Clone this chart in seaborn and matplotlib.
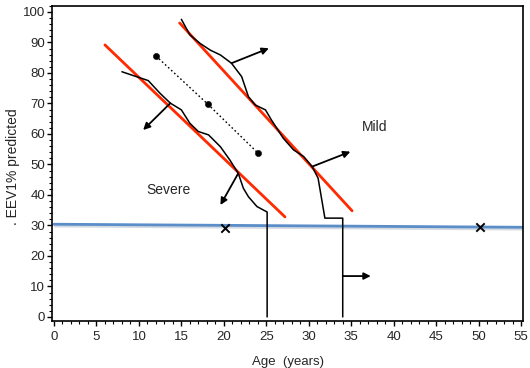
import numpy as np
import pandas as pd
import matplotlib
matplotlib.use('Agg')
import matplotlib.pyplot as plt
import seaborn as sns
from matplotlib.ticker import MultipleLocator

sns.set_style('ticks')
plt.rcParams['font.family'] = ['Liberation Sans', 'DejaVu Sans']

# severe course (black wiggly curve, ends with vertical drop)
sev_age = [8.0, 11.1, 12.5, 13.7, 15.0, 16.0, 17.0, 18.2, 19.6, 20.7, 21.7, 22.3, 22.9, 23.9, 25.1, 25.1]
sev_fev = [80.4, 77.5, 73.3, 70.1, 67.9, 63.5, 60.8, 59.7, 55.8, 51.5, 47.1, 42.2, 39.4, 36.2, 34.4, 0.0]

# mild course
mild_age = [15.0, 16.0, 17.2, 18.4, 19.6, 20.9, 22.1, 22.9, 23.7, 24.9, 25.6, 27.0, 28.2, 29.4, 30.4, 31.1, 31.9, 34.0, 34.0]
mild_fev = [97.6, 92.5, 89.7, 87.5, 85.9, 83.2, 78.8, 72.2, 69.5, 67.9, 64.6, 58.6, 54.8, 52.6, 49.3, 45.5, 32.4, 32.4, 0.0]

# red regression lines
sev_fit_age = [6.0, 27.2]
sev_fit_fev = [89.2, 32.8]
mild_fit_age = [14.8, 35.1]
mild_fit_fev = [96.4, 34.8]

# dotted line with dots
dot_age = [12.0, 18.1, 24.0]
dot_fev = [85.6, 69.8, 53.8]

# threshold (blue)
thr_age = [0.0, 55.2]
thr_fev = [30.4, 29.4]

# X marks
x_age = [20.1, 50.2]
x_fev = [29.3, 29.4]

# arrows
arr_from_age = [13.7, 21.7, 20.9, 30.4, 34.0]
arr_from_fev = [70.1, 47.1, 83.2, 49.3, 13.4]
arr_to_age = [10.5, 19.6, 25.3, 34.9, 37.3]
arr_to_fev = [61.3, 36.7, 88.1, 54.2, 13.4]

fig = plt.figure(figsize=(5.30, 3.68), dpi=100)
ax = fig.add_axes([0.098, 0.128, 0.889, 0.856])

# blue threshold line with faint shadow
ax.plot(thr_age, [v - 0.6 for v in thr_fev], color='#d3dae2', lw=2.0, solid_capstyle='butt')
sns.lineplot(x=thr_age, y=thr_fev, color='#5b8dc9', lw=2.0, ax=ax, sort=False, estimator=None)

sns.lineplot(x=sev_fit_age, y=sev_fit_fev, color='#ff2a00', lw=2.0, ax=ax, sort=False, estimator=None)
sns.lineplot(x=mild_fit_age, y=mild_fit_fev, color='#ff2a00', lw=2.0, ax=ax, sort=False, estimator=None)

sns.lineplot(x=sev_age, y=sev_fev, color='black', lw=1.1, ax=ax, sort=False, estimator=None)
sns.lineplot(x=mild_age, y=mild_fev, color='black', lw=1.1, ax=ax, sort=False, estimator=None)

ax.plot(dot_age, dot_fev, color='black', lw=1.0, ls=(0, (1.2, 1.8)))
sns.scatterplot(x=dot_age, y=dot_fev, color='black', s=20, edgecolor='black', ax=ax, zorder=5)

sns.scatterplot(x=x_age, y=x_fev, marker='x', color='black', s=36, linewidth=1.4, ax=ax, zorder=5)

for fa, ff, ta, tf in zip(arr_from_age, arr_from_fev, arr_to_age, arr_to_fev):
    ax.annotate('', xy=(ta, tf), xytext=(fa, ff),
                arrowprops=dict(arrowstyle='-|>', color='black', lw=1.3,
                                mutation_scale=10, shrinkA=0, shrinkB=0))

ax.text(10.9, 41.6, 'Severe', fontsize=10, va='center', ha='left')
ax.text(36.3, 62.3, 'Mild', fontsize=10, va='center', ha='left')

ax.set_xlim(-0.24, 55.24)
ax.set_ylim(-1.3, 102)
ax.xaxis.set_major_locator(MultipleLocator(5))
ax.xaxis.set_minor_locator(MultipleLocator(1))
ax.yaxis.set_major_locator(MultipleLocator(10))
ax.yaxis.set_minor_locator(MultipleLocator(2))
ax.tick_params(axis='both', which='major', length=3.5, width=1, labelsize=9.5, pad=1.5, color='black')
ax.tick_params(axis='both', which='minor', length=2, width=0.8, color='black')
ax.tick_params(axis='x', which='major', pad=4)
for s in ax.spines.values():
    s.set_linewidth(1.2)
    s.set_color('black')

ax.set_xlabel('Age  (years)', fontsize=9.5, labelpad=9)
ax.set_ylabel('. EEV1% predicted', fontsize=10)
ax.yaxis.set_label_coords(-0.068, 0.49)

fig.savefig('out.png', dpi=100)
